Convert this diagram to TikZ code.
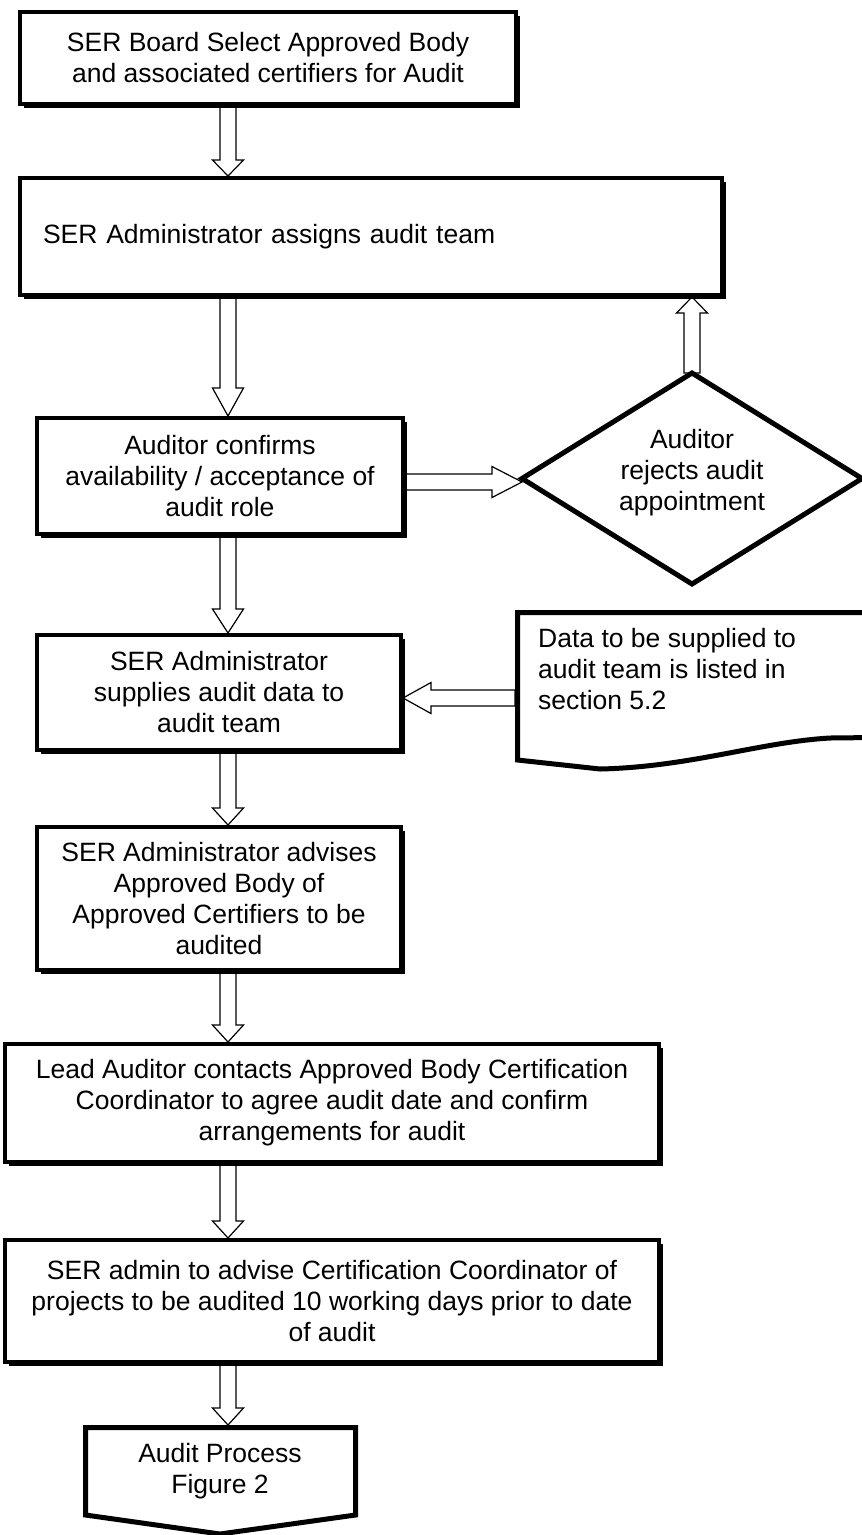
\documentclass[tikz,border=0pt]{standalone}
\usepackage{fontspec}
\setmainfont{Liberation Sans}
\usetikzlibrary{calc,shadows}
\pgfdeclarelayer{bg}
\pgfsetlayers{bg,main}
\newcommand\myfnt{\fontsize{26.5}{31}\selectfont}
% hollow block arrows: #1 start, #2 tip, #3 head length
\newcommand\hdown[3]{\draw[harrow] let \p1=(#1), \p2=(#2) in
 (\x1-8pt,\y1) -- (\x1-8pt,\y2+#3) -- (\x1-15.5pt,\y2+#3) -- (\x1,\y2) -- (\x1+15.5pt,\y2+#3) -- (\x1+8pt,\y2+#3) -- (\x1+8pt,\y1) -- cycle;}
\newcommand\hup[3]{\draw[harrow] let \p1=(#1), \p2=(#2) in
 (\x1-8pt,\y1) -- (\x1-8pt,\y2-#3) -- (\x1-15.5pt,\y2-#3) -- (\x1,\y2) -- (\x1+15.5pt,\y2-#3) -- (\x1+8pt,\y2-#3) -- (\x1+8pt,\y1) -- cycle;}
\newcommand\hright[3]{\draw[harrow] let \p1=(#1), \p2=(#2) in
 (\x1,\y1-8pt) -- (\x2-#3,\y1-8pt) -- (\x2-#3,\y1-15.5pt) -- (\x2,\y1) -- (\x2-#3,\y1+15.5pt) -- (\x2-#3,\y1+8pt) -- (\x1,\y1+8pt) -- cycle;}
\newcommand\hleft[3]{\draw[harrow] let \p1=(#1), \p2=(#2) in
 (\x1,\y1-8pt) -- (\x2+#3,\y1-8pt) -- (\x2+#3,\y1-15.5pt) -- (\x2,\y1) -- (\x2+#3,\y1+15.5pt) -- (\x2+#3,\y1+8pt) -- (\x1,\y1+8pt) -- cycle;}
\begin{document}
\begin{tikzpicture}[x=1pt,y=-1pt,
  box/.style={draw=black, line width=4pt, fill=white, inner sep=0pt, align=center, font=\myfnt,
    general shadow={fill=black, shadow xshift=3.5pt, shadow yshift=-3.5pt}},
  harrow/.style={draw=black, fill=white, line width=1.2pt, line join=miter},
  outline/.style={draw=black, fill=white, line width=5pt},
  txt/.style={font=\myfnt, inner sep=0pt, align=center}]
\useasboundingbox (0,0) rectangle (862,1535);
\begin{pgfonlayer}{bg}
\fill[white] (0,0) rectangle (862,1535);
\end{pgfonlayer}

\coordinate (col) at (228,0);
\coordinate (yr) at (0,482);
\coordinate (dl) at (515,698);
\coordinate (fintop) at (228,1425);

% process boxes
\node[box, minimum width=496pt, minimum height=92pt] (b1) at (268,58)
  {SER Board Select Approved Body\\and associated certifiers for Audit};
\node[box, minimum width=702pt, minimum height=117pt, text width=656pt, align=left, inner xsep=23pt] (b2) at (371,236.5)
  {SER Administrator assigns audit team};
\node[box, minimum width=366pt, minimum height=116pt] (b3) at (220,476)
  {Auditor confirms\\availability / acceptance of\\audit role};
\node[box, minimum width=364pt, minimum height=115pt] (b4) at (219,692.5)
  {SER Administrator\\supplies audit data to\\audit team};
\node[box, minimum width=364pt, minimum height=143pt] (b5) at (219,898.5)
  {SER Administrator advises\\Approved Body of\\Approved Certifiers to be\\audited};
\node[box, minimum width=654pt, minimum height=118pt] (b6) at (332,1103)
  {Lead Auditor contacts Approved Body Certification\\Coordinator to agree audit date and confirm\\arrangements for audit};
\node[box, minimum width=654pt, minimum height=122pt] (b7) at (332,1301)
  {SER admin to advise Certification Coordinator of\\projects to be audited 10 working days prior to date\\of audit};

% decision diamond
\coordinate (dL) at (522,478.5);
\coordinate (dT) at (692,373);
\coordinate (dR) at (862,478.5);
\coordinate (dB) at (692,584);
\draw[outline] (dL) -- (dT) -- (dR) -- (dB) -- cycle;
\node[txt] (dia) at (692,473) {Auditor\\rejects audit\\appointment};

% document shape
\draw[outline] (875,612.5) -- (517.5,612.5) -- (517.5,760) -- (600,769)
  .. controls (690,767) and (760,742) .. (830,738) -- (875,737.5);
\node[font=\myfnt, inner sep=0pt, align=left, anchor=north west] (doc) at (538,628)
  {Data to be supplied to\\audit team is listed in\\section 5.2};

% off-page connector
\draw[outline] (85.5,1427.5) -- (355.5,1427.5) -- (355.5,1515) -- (220,1534) -- (85.5,1515) -- cycle;
\node[txt] (fin) at (220,1471) {Audit Process\\Figure 2};

% connectors
\begin{pgfonlayer}{bg}
\hdown{b1.south -| col}{b2.north -| col}{16pt}
\hdown{b2.south -| col}{b3.north -| col}{28pt}
\hdown{b3.south -| col}{b4.north -| col}{24pt}
\hdown{b4.south -| col}{b5.north -| col}{17pt}
\hdown{b5.south -| col}{b6.north -| col}{17pt}
\hdown{b6.south -| col}{b7.north -| col}{17pt}
\hdown{b7.south -| col}{fintop}{17pt}
\hright{b3.east |- yr}{dL |- yr}{30pt}
\hup{dT}{b2.south -| dT}{16pt}
\hleft{dl}{b4.east |- dl}{28pt}
\end{pgfonlayer}
\end{tikzpicture}
\end{document}
